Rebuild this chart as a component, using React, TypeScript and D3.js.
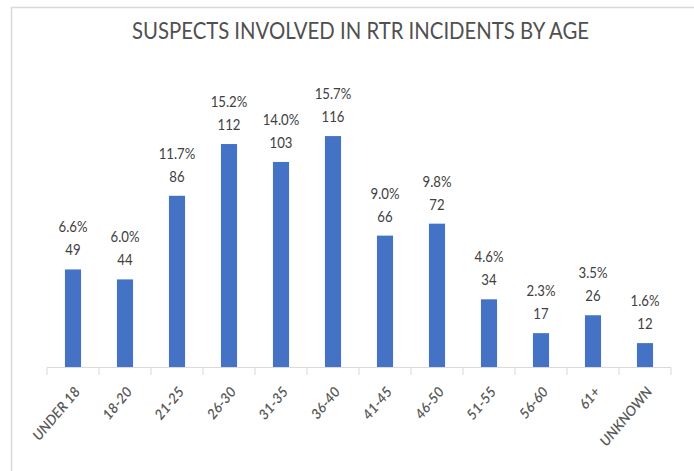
import React from "react";
import * as d3 from "d3";

const categories = ["UNDER 18", "18-20", "21-25", "26-30", "31-35", "36-40", "41-45", "46-50", "51-55", "56-60", "61+", "UNKNOWN"];
const counts = [49, 44, 86, 112, 103, 116, 66, 72, 34, 17, 26, 12];
const percents = ["6.6%", "6.0%", "11.7%", "15.2%", "14.0%", "15.7%", "9.0%", "9.8%", "4.6%", "2.3%", "3.5%", "1.6%"];
const yDomain = [0, 140];
const title = "SUSPECTS INVOLVED IN RTR INCIDENTS BY AGE";

const W = 694;
const H = 471;
const FONT = "Lato, 'Open Sans', 'DejaVu Sans', sans-serif";

export default function App() {
  const x = d3.scaleBand<string>().domain(categories).range([47, 671]).paddingInner(0.69).paddingOuter(0.345);
  const y = d3.scaleLinear().domain(yDomain).range([367, 88.3]);
  const step = x.step();
  const [x0] = x.range();
  const tickXs = d3.range(categories.length + 1).map((i) => x0 + i * step);

  return (
    <svg width={W} height={H} style={{ position: "absolute", left: 0, top: 0, background: "#fff" }}>
      <rect x={0} y={0} width={W} height={H} fill="#fff" />
      <rect x={11.5} y={7.5} width={W + 20} height={H + 20} fill="#fff" stroke="#d9d9d9" strokeWidth={1.5} />
      <text
        x={360.5}
        y={39}
        textAnchor="middle"
        fontFamily={FONT}
        fontSize={24}
        fill="#505050"
        textLength={457}
        lengthAdjust="spacingAndGlyphs"
      >
        {title}
      </text>

      {categories.map((c, i) => {
        const bx = x(c)!;
        const top = y(counts[i]);
        const cx = bx + x.bandwidth() / 2;
        return (
          <g key={c}>
            <rect x={bx} y={top} width={x.bandwidth()} height={y(0) - top} fill="#4472C4" />
            <g transform={`translate(${cx},0) scale(0.85,1)`}>
              <text x={0} y={top - 37} textAnchor="middle" fontFamily={FONT} fontSize={15.5} fill="#404040">
                {percents[i]}
              </text>
              <text x={0} y={top - 14} textAnchor="middle" fontFamily={FONT} fontSize={15.5} fill="#404040">
                {counts[i]}
              </text>
            </g>
            <text
              transform={`translate(${cx + 8},${392}) rotate(-50)`}
              textAnchor="end"
              fontFamily={FONT}
              fontSize={14}
              fontStyle="italic"
              fontWeight={600}
              fill="#595959"
            >
              {c}
            </text>
          </g>
        );
      })}

      <line x1={x0} x2={x0 + step * categories.length} y1={367.5} y2={367.5} stroke="#d9d9d9" strokeWidth={1} />
      {tickXs.map((tx, i) => (
        <line key={i} x1={tx} x2={tx} y1={367.5} y2={375} stroke="#d9d9d9" strokeWidth={1} />
      ))}
    </svg>
  );
}
